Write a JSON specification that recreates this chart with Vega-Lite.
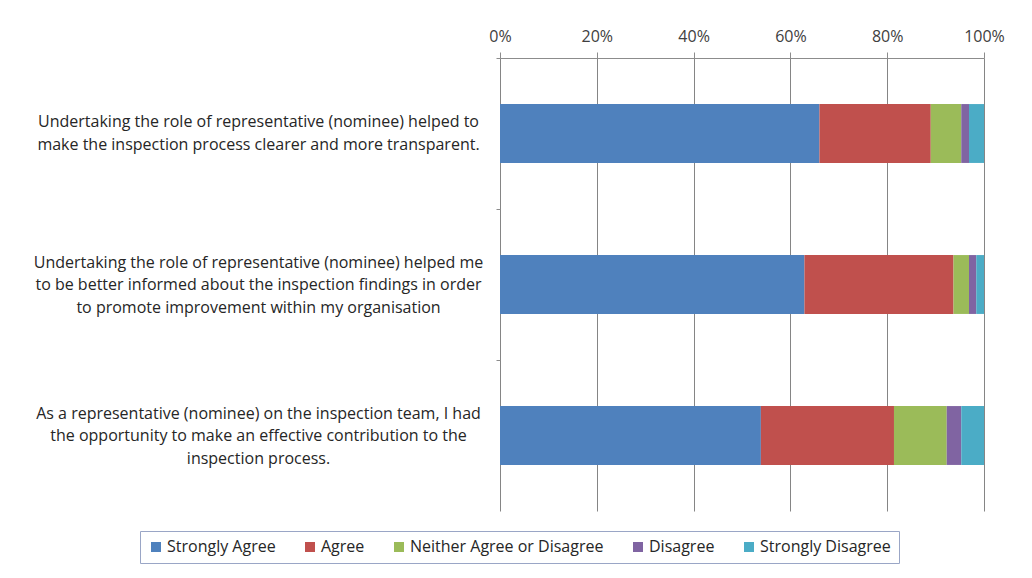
{
  "$schema": "https://vega.github.io/schema/vega-lite/v6.json",
  "width": 484,
  "height": 453,
  "autosize": {"type": "none"},
  "padding": {"left": 500, "top": 58, "right": 48, "bottom": 67},
  "background": "white",
  "data": {
    "values": [
      {"q": "Undertaking the role of representative (nominee) helped to\nmake the inspection process clearer and more transparent.", "response": "Strongly Agree", "k": 1, "pct": 66.0},
      {"q": "Undertaking the role of representative (nominee) helped to\nmake the inspection process clearer and more transparent.", "response": "Agree", "k": 2, "pct": 23.0},
      {"q": "Undertaking the role of representative (nominee) helped to\nmake the inspection process clearer and more transparent.", "response": "Neither Agree or Disagree", "k": 3, "pct": 6.3},
      {"q": "Undertaking the role of representative (nominee) helped to\nmake the inspection process clearer and more transparent.", "response": "Disagree", "k": 4, "pct": 1.6},
      {"q": "Undertaking the role of representative (nominee) helped to\nmake the inspection process clearer and more transparent.", "response": "Strongly Disagree", "k": 5, "pct": 3.1},
      {"q": "Undertaking the role of representative (nominee) helped me\nto be better informed about the inspection findings in order\nto promote improvement within my organisation", "response": "Strongly Agree", "k": 1, "pct": 62.9},
      {"q": "Undertaking the role of representative (nominee) helped me\nto be better informed about the inspection findings in order\nto promote improvement within my organisation", "response": "Agree", "k": 2, "pct": 30.8},
      {"q": "Undertaking the role of representative (nominee) helped me\nto be better informed about the inspection findings in order\nto promote improvement within my organisation", "response": "Neither Agree or Disagree", "k": 3, "pct": 3.2},
      {"q": "Undertaking the role of representative (nominee) helped me\nto be better informed about the inspection findings in order\nto promote improvement within my organisation", "response": "Disagree", "k": 4, "pct": 1.5},
      {"q": "Undertaking the role of representative (nominee) helped me\nto be better informed about the inspection findings in order\nto promote improvement within my organisation", "response": "Strongly Disagree", "k": 5, "pct": 1.6},
      {"q": "As a representative (nominee) on the inspection team, I had\nthe opportunity to make an effective contribution to the\ninspection process.", "response": "Strongly Agree", "k": 1, "pct": 53.9},
      {"q": "As a representative (nominee) on the inspection team, I had\nthe opportunity to make an effective contribution to the\ninspection process.", "response": "Agree", "k": 2, "pct": 27.5},
      {"q": "As a representative (nominee) on the inspection team, I had\nthe opportunity to make an effective contribution to the\ninspection process.", "response": "Neither Agree or Disagree", "k": 3, "pct": 10.9},
      {"q": "As a representative (nominee) on the inspection team, I had\nthe opportunity to make an effective contribution to the\ninspection process.", "response": "Disagree", "k": 4, "pct": 3.0},
      {"q": "As a representative (nominee) on the inspection team, I had\nthe opportunity to make an effective contribution to the\ninspection process.", "response": "Strongly Disagree", "k": 5, "pct": 4.7}
    ]
  },
  "mark": {"type": "bar"},
  "encoding": {
    "y": {
      "field": "q",
      "type": "nominal",
      "sort": null,
      "scale": {"paddingInner": 0.61, "paddingOuter": 0.305},
      "axis": {
        "title": null,
        "domain": false,
        "ticks": true,
        "bandPosition": -0.78,
        "tickSize": 4,
        "tickColor": "#8c8c8c",
        "labelAlign": "center",
        "labelBaseline": "middle",
        "labelPadding": 238,
        "labelOffset": {"condition": {"test": "length(split(datum.value, '\\n')) == 2", "value": -11.5}, "value": -22},
        "labelExpr": "split(datum.label, '\\n')",
        "labelFont": "Open Sans",
        "labelFontSize": 16,
        "labelLineHeight": 22.5,
        "labelColor": "#262626",
        "labelLimit": 0
      }
    },
    "x": {
      "field": "pct",
      "type": "quantitative",
      "stack": "normalize",
      "scale": {"domain": [0, 1]},
      "axis": {
        "orient": "top",
        "title": null,
        "values": [0, 0.2, 0.4, 0.6, 0.8, 1],
        "format": ".0%",
        "grid": true,
        "gridColor": "#858585",
        "gridOpacity": 1,
        "domainColor": "#8c8c8c",
        "tickColor": "#8c8c8c",
        "tickSize": 6,
        "labelFlush": false,
        "labelPadding": 8,
        "labelFont": "Open Sans",
        "labelFontSize": 16,
        "labelColor": "#404040"
      }
    },
    "order": {"field": "k", "type": "quantitative", "sort": "ascending"},
    "color": {
      "field": "response",
      "type": "nominal",
      "sort": ["Strongly Agree", "Agree", "Neither Agree or Disagree", "Disagree", "Strongly Disagree"],
      "scale": {
        "domain": ["Strongly Agree", "Agree", "Neither Agree or Disagree", "Disagree", "Strongly Disagree"],
        "range": ["#4f81bd", "#c0504d", "#9bbb59", "#8064a2", "#4bacc6"]
      },
      "legend": {
        "title": null,
        "orient": "none",
        "legendX": -360,
        "legendY": 473,
        "direction": "horizontal",
        "symbolType": "square",
        "symbolSize": 100,
        "symbolStrokeWidth": 0,
        "labelFont": "Open Sans",
        "labelFontSize": 16,
        "labelColor": "#262626",
        "labelOffset": 3,
        "labelLimit": 0,
        "columnPadding": 26,
        "padding": 8,
        "strokeColor": "#9aa6c6",
        "fillColor": "white"
      }
    }
  },
  "config": {
    "view": {"stroke": null}
  }
}
